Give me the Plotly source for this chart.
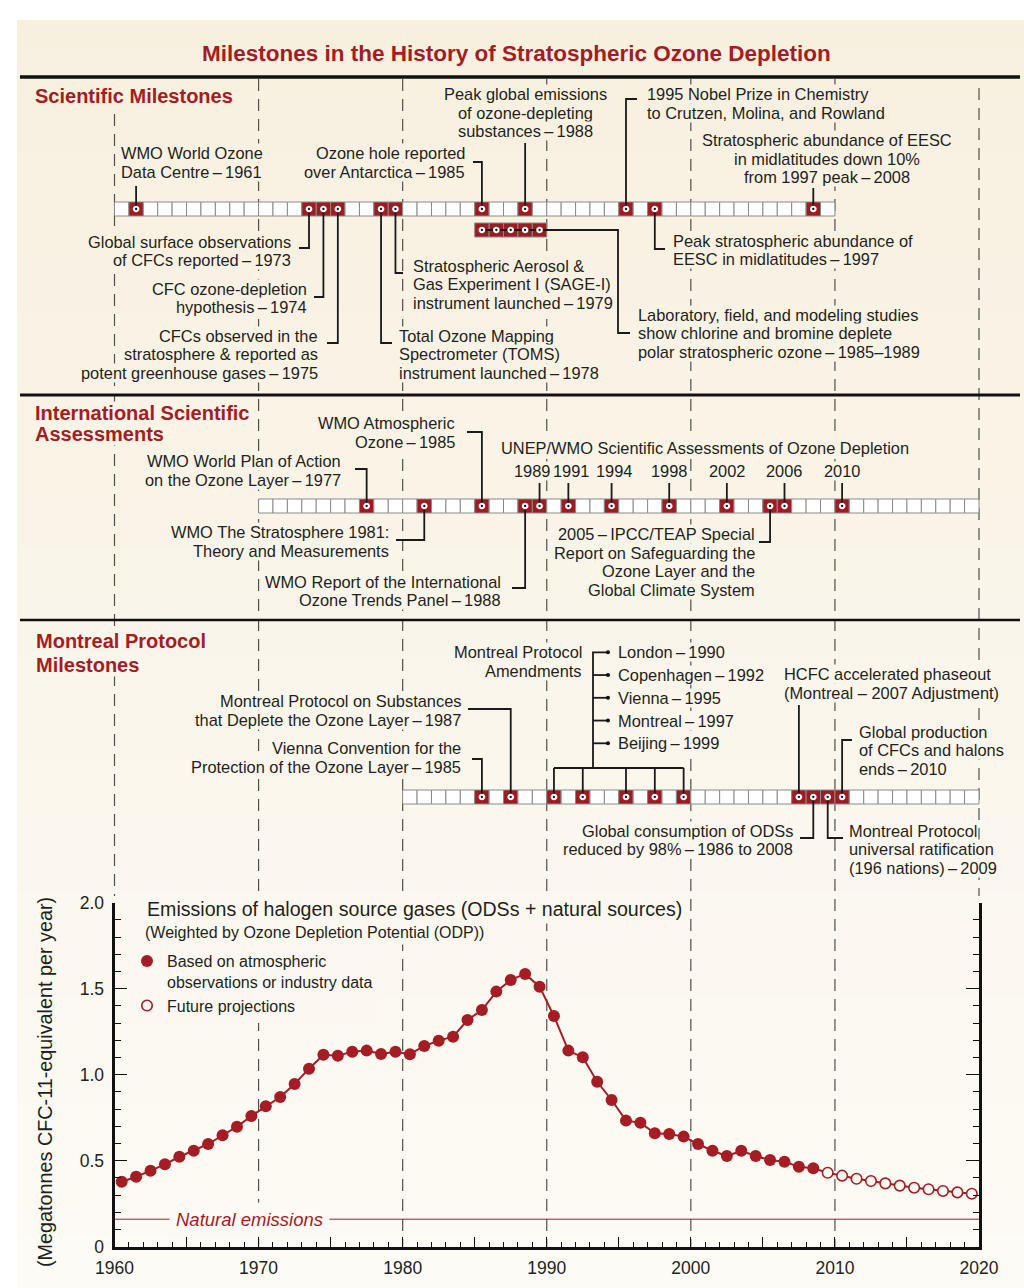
import plotly.graph_objects as go

W, H = 1024, 1288

# ------------------------------------------------------------------ DATA
emis_years_obs = list(range(1960, 2009))
emis_obs = [0.378, 0.407, 0.442, 0.479, 0.523, 0.558, 0.597, 0.648, 0.698, 0.760,
            0.816, 0.870, 0.946, 1.035, 1.116, 1.110, 1.134, 1.140, 1.120, 1.134,
            1.119, 1.167, 1.198, 1.221, 1.318, 1.376, 1.483, 1.551, 1.586, 1.512,
            1.341, 1.140, 1.101, 0.959, 0.853, 0.733, 0.721, 0.659, 0.655, 0.640,
            0.597, 0.558, 0.527, 0.558, 0.527, 0.504, 0.494, 0.465, 0.456]
emis_years_proj = list(range(2009, 2020))
emis_proj = [0.430, 0.413, 0.395, 0.382, 0.368, 0.355, 0.343, 0.334, 0.324, 0.316, 0.308]
natural_emissions = 0.16

timeline_start = [1960, 1970, 1980]
timeline_end = [2010, 2020, 2020]

D = "\u2009\u2013\u2009"
sci_years = [1961, 1985, 1988, 1995, 2008, 1973, 1974, 1975, 1979, 1978, 1997]
sci_texts = [
    ["WMO World Ozone", "Data Centre" + D + "1961"],
    ["Ozone hole reported", "over Antarctica" + D + "1985"],
    ["Peak global emissions", "of ozone-depleting", "substances" + D + "1988"],
    ["1995 Nobel Prize in Chemistry", "to Crutzen, Molina, and Rowland"],
    ["Stratospheric abundance of EESC", "in midlatitudes down 10%", "from 1997 peak" + D + "2008"],
    ["Global surface observations", "of CFCs reported" + D + "1973"],
    ["CFC ozone-depletion", "hypothesis" + D + "1974"],
    ["CFCs observed in the", "stratosphere & reported as", "potent greenhouse gases" + D + "1975"],
    ["Stratospheric Aerosol &", "Gas Experiment I (SAGE-I)", "instrument launched" + D + "1979"],
    ["Total Ozone Mapping", "Spectrometer (TOMS)", "instrument launched" + D + "1978"],
    ["Peak stratospheric abundance of", "EESC in midlatitudes" + D + "1997"],
]
sci_span_years = [1985, 1986, 1987, 1988, 1989]
sci_span_text = ["Laboratory, field, and modeling studies",
                 "show chlorine and bromine deplete",
                 "polar stratospheric ozone" + D + "1985\u20131989"]

assess_years = [1977, 1985, 1981, 1988, 2005]
assess_texts = [
    ["WMO World Plan of Action", "on the Ozone Layer" + D + "1977"],
    ["WMO Atmospheric", "Ozone" + D + "1985"],
    ["WMO The Stratosphere 1981:", "Theory and Measurements"],
    ["WMO Report of the International", "Ozone Trends Panel" + D + "1988"],
    ["2005" + D + "IPCC/TEAP Special", "Report on Safeguarding the",
     "Ozone Layer and the", "Global Climate System"],
]
unep_years = [1989, 1991, 1994, 1998, 2002, 2006, 2010]
unep_title = "UNEP/WMO Scientific Assessments of Ozone Depletion"

mp_years = [1985, 1987, 2007, 2010, 2008, 2009]
mp_texts = [
    ["Vienna Convention for the", "Protection of the Ozone Layer" + D + "1985"],
    ["Montreal Protocol on Substances", "that Deplete the Ozone Layer" + D + "1987"],
    ["HCFC accelerated phaseout", "(Montreal \u2013 2007 Adjustment)"],
    ["Global production", "of CFCs and halons", "ends" + D + "2010"],
    ["Global consumption of ODSs", "reduced by 98%" + D + "1986 to 2008"],
    ["Montreal Protocol", "universal ratification", "(196 nations)" + D + "2009"],
]
amend_years = [1990, 1992, 1995, 1997, 1999]
amend_names = ["London", "Copenhagen", "Vienna", "Montreal", "Beijing"]
amend_title = ["Montreal Protocol", "Amendments"]

section_titles = [["Scientific Milestones"],
                  ["International Scientific", "Assessments"],
                  ["Montreal Protocol", "Milestones"]]
main_title = "Milestones in the History of Stratospheric Ozone Depletion"
chart_title = "Emissions of halogen source gases (ODSs + natural sources)"
chart_subtitle = "(Weighted by Ozone Depletion Potential (ODP))"
y_title = "(Megatonnes CFC-11-equivalent per year)"

# ------------------------------------------------------------------ LAYOUT / STYLE
RED = "#a51c24"
BOXRED = "#a01a22"
TXT = "#231f20"
FONT = "Liberation Sans, Arial, sans-serif"
FS = 16.4
LH = 18.7

PX = (979.0 - 114.5) / 60.0          # pixels per year
X0 = 1960 - 114.5 / PX               # x2 value at left edge


def xv(px):
    return X0 + px / PX


def yp(py):
    return 1 - py / H


C_TOP = (248, 240, 223)
C_BOT = (253, 251, 246)


def bg_at(py):
    t = min(max((py - 20) / (H - 20), 0), 1)
    c = [round(a + (b - a) * t) for a, b in zip(C_TOP, C_BOT)]
    return "rgb(%d,%d,%d)" % tuple(c)


BOX_H = 14
row_top = [202, 499, 790]
span_top = 223

# placements: (connector end y, arm end px or None, text px, xanchor, first line y)
sci_place = [(186, None, 120, "left", 153), (162, 473, 466, "right", 153),
             (143, None, 525, "center", 94), (99, 637, 646, "left", 94),
             (188, None, 827, "center", 140), (248, 299, 292, "right", 241.5),
             (297, 314, 308, "right", 288.5), (343, 327, 319, "right", 335.5),
             (273, 403, 412, "left", 265.5), (343, 392, 398, "left", 335.5),
             (249, 665, 672, "left", 240.5)]
span_place = (618, 333, 630, 637, 314.5)   # corner px, down y, arm px, text px, first y
assess_place = [(469, 355, 342, "right", 461), (432, 467, 456, "right", 423),
                (540, 396, 390, "right", 532), (588, 512, 502, "right", 581.5),
                (542, 759, 756, "right", 534)]
unep_conn_top = 483
unep_label_y = 471
unep_label_shift = [-8, 3, 2, 0, 0, 0, 0]
unep_title_pos = (704.5, 448)
mp_place = [(759, 472, 462, "right", 748), (709, 468, 462, "right", 701),
            (705, None, 783, "left", 674), (740, 852, 858, "left", 731.5),
            (838, 800, 794, "right", 830.5), (838, 843, 848, "left", 830.5)]
amend_bar_y = 768
amend_trunk_px = 593
amend_arrow_px = 607
amend_label_px = 617
amend_first_y = 652.3
amend_step = 22.75
amend_title_pos = (583, 652)
section_pos = [(34, 96, 20), (34, 413, 20.5), (35, 641, 24)]

fig = go.Figure()

shapes = []
# background panel as gradient bands
NB = 48
y_start, y_end = 20, H
for i in range(NB):
    a = y_start + (y_end - y_start) * i / NB
    b = y_start + (y_end - y_start) * (i + 1) / NB + 1
    shapes.append(dict(type="rect", xref="paper", yref="paper", x0=17 / W, x1=1,
                       y0=yp(min(b, H)), y1=yp(a), fillcolor=bg_at((a + b) / 2),
                       line=dict(width=0), layer="below"))
# decade dashed lines
dash_spans = {1960: (114, 896), 1970: (79, 1247), 1980: (79, 1247), 1990: (79, 1247),
              2000: (79, 1247), 2010: (79, 1247), 2020: (88, 896)}
for yr, (a, b) in dash_spans.items():
    shapes.append(dict(type="line", xref="x2", yref="paper", x0=yr, x1=yr,
                       y0=yp(a), y1=yp(b), line=dict(color="#505050", width=1.2, dash="12px,8px"),
                       layer="below"))
# horizontal rules
for py, wdt in [(77, 3.5), (395, 3), (620, 2.5)]:
    shapes.append(dict(type="line", xref="paper", yref="paper", x0=20 / W, x1=1020 / W,
                       y0=yp(py), y1=yp(py), line=dict(color="#111", width=wdt), layer="above"))

# ------------------------------------------------------------------ timeline boxes
milestone_rows = [set(sci_years), set(assess_years) | set(unep_years),
                  set(mp_years) | set(amend_years)]
for r in range(3):
    yrs = list(range(timeline_start[r], timeline_end[r]))
    cols = [BOXRED if y in milestone_rows[r] else "white" for y in yrs]
    fig.add_trace(go.Bar(x=[y + 0.5 for y in yrs], y=[BOX_H] * len(yrs),
                         base=[row_top[r]] * len(yrs), width=1,
                         marker=dict(color=cols, line=dict(color="#8a8a8a", width=1)),
                         xaxis="x2", yaxis="y2", showlegend=False, hoverinfo="skip"))
fig.add_trace(go.Bar(x=[y + 0.5 for y in sci_span_years], y=[BOX_H] * len(sci_span_years),
                     base=[span_top] * len(sci_span_years), width=1,
                     marker=dict(color=BOXRED, line=dict(color="#8a8a8a", width=1)),
                     xaxis="x2", yaxis="y2", showlegend=False, hoverinfo="skip"))

# ------------------------------------------------------------------ connectors
cx, cy = [], []
dots_x, dots_y = [], []


def seg(points):
    for (a, b) in points:
        cx.append(a)
        cy.append(b)
    cx.append(None)
    cy.append(None)


def milestone(year, row_y, place):
    conn_y, arm, *_ = place
    xc = year + 0.5
    pts = [(xc, row_y), (xc, conn_y)]
    if arm is not None:
        pts.append((xv(arm), conn_y))
    seg(pts)
    dots_x.append(xc)
    dots_y.append(row_y)


sci_c = row_top[0] + BOX_H / 2
asm_c = row_top[1] + BOX_H / 2
mp_c = row_top[2] + BOX_H / 2
for y, p in zip(sci_years, sci_place):
    milestone(y, sci_c, p)
for y, p in zip(assess_years, assess_place):
    milestone(y, asm_c, p)
for y, p in zip(mp_years, mp_place):
    milestone(y, mp_c, p)

span_c = span_top + BOX_H / 2
corner, down_y, arm_px, _, _ = span_place
seg([(sci_span_years[0] + 0.5, span_c), (xv(corner), span_c), (xv(corner), down_y), (xv(arm_px), down_y)])
for y in sci_span_years:
    dots_x.append(y + 0.5)
    dots_y.append(span_c)

for y in unep_years:
    seg([(y + 0.5, asm_c), (y + 0.5, unep_conn_top)])
    dots_x.append(y + 0.5)
    dots_y.append(asm_c)

for y in amend_years:
    seg([(y + 0.5, mp_c), (y + 0.5, amend_bar_y)])
    dots_x.append(y + 0.5)
    dots_y.append(mp_c)
seg([(amend_years[0] + 0.5, amend_bar_y), (amend_years[-1] + 0.5, amend_bar_y)])
list_y = [amend_first_y + i * amend_step for i in range(len(amend_names))]
seg([(xv(amend_trunk_px), amend_bar_y), (xv(amend_trunk_px), list_y[0]), (xv(amend_arrow_px), list_y[0])])
for ly in list_y[1:]:
    seg([(xv(amend_trunk_px), ly), (xv(amend_arrow_px), ly)])

fig.add_trace(go.Scatter(x=cx, y=cy, mode="lines", line=dict(color="#1a1a1a", width=1.8),
                         xaxis="x2", yaxis="y2", showlegend=False, hoverinfo="skip"))
fig.add_trace(go.Scatter(x=dots_x, y=dots_y, mode="markers",
                         marker=dict(size=4.5, color="#111", line=dict(color="white", width=2.2)),
                         xaxis="x2", yaxis="y2", showlegend=False, hoverinfo="skip", cliponaxis=False))
fig.add_trace(go.Scatter(x=[xv(amend_arrow_px + 1)] * len(list_y), y=list_y, mode="markers",
                         marker=dict(size=4, color="#111"),
                         xaxis="x2", yaxis="y2", showlegend=False, hoverinfo="skip"))

# ------------------------------------------------------------------ emissions chart
all_x = [y + 0.5 for y in emis_years_obs + emis_years_proj]
fig.add_trace(go.Scatter(x=[1960, 2020], y=[natural_emissions] * 2, mode="lines",
                         line=dict(color=RED, width=1), showlegend=False, hoverinfo="skip"))
fig.add_trace(go.Scatter(x=all_x, y=emis_obs + emis_proj, mode="lines",
                         line=dict(color=RED, width=2), showlegend=False, hoverinfo="skip"))
fig.add_trace(go.Scatter(x=[y + 0.5 for y in emis_years_obs], y=emis_obs, mode="markers",
                         marker=dict(size=12, color=RED),
                         name="Based on atmospheric<br>observations or industry data"))
fig.add_trace(go.Scatter(x=[y + 0.5 for y in emis_years_proj], y=emis_proj, mode="markers",
                         marker=dict(size=10.5, color=bg_at(1200), line=dict(color=RED, width=1.6)),
                         name="Future projections"))

# ------------------------------------------------------------------ annotations
ann = []


def text(px, py, s, anchor="left", size=FS, color=TXT, bold=False, italic=False, bg=True,
         xshift=0, pad=0, angle=0):
    t = s
    if bold:
        t = "<b>" + t + "</b>"
    if italic:
        t = "<i>" + t + "</i>"
    d = dict(x=xv(px), y=py, xref="x2", yref="y2", text=t, showarrow=False,
             xanchor=anchor, yanchor="middle", xshift=xshift, textangle=angle,
             font=dict(family=FONT, size=size, color=color), borderpad=pad)
    if bg:
        d["bgcolor"] = bg_at(py)
    ann.append(d)


def block(lines, place_px, anchor, y0, lh=LH, **kw):
    for i, ln in enumerate(lines):
        text(place_px, y0 + i * lh, ln, anchor, **kw)


text(516.5, 53, main_title, "center", size=22.5, color=RED, bold=True, bg=False)
for lines, (px, py, lh) in zip(section_titles, section_pos):
    block(lines, px, "left", py, lh=lh, size=20, color=RED, bold=True)

for lines, p in zip(sci_texts, sci_place):
    block(lines, p[2], p[3], p[4])
block(sci_span_text, span_place[3], "left", span_place[4])
for lines, p in zip(assess_texts, assess_place):
    block(lines, p[2], p[3], p[4])
text(unep_title_pos[0], unep_title_pos[1], unep_title, "center")
for y, sh in zip(unep_years, unep_label_shift):
    text(PX * (y + 0.5 - X0), unep_label_y, str(y), "center", xshift=sh)
for lines, p in zip(mp_texts, mp_place):
    block(lines, p[2], p[3], p[4])
block(amend_title, amend_title_pos[0], "right", amend_title_pos[1])
for nm, yr, ly in zip(amend_names, amend_years, list_y):
    text(amend_label_px, ly, nm + D + str(yr), "left")

# chart texts
text(143, 909, chart_title, "left", size=19.6, pad=3)
text(141, 932, chart_subtitle, "left", size=16, pad=3)
text(45, 1082, y_title, "center", size=19.8, bg=False, angle=-90)
ann.append(dict(x=1969.4, y=natural_emissions, xref="x", yref="y", text="<i>Natural emissions</i>",
                showarrow=False, xanchor="center", yanchor="middle",
                font=dict(family=FONT, size=18.5, color=RED), bgcolor=bg_at(1219), borderpad=6))

ydom = [(H - 1246.7) / H, (H - 902.7) / H]
fig.update_layout(
    width=W, height=H, autosize=False,
    margin=dict(l=0, r=0, t=0, b=0, pad=0, autoexpand=False),
    paper_bgcolor="white", plot_bgcolor="rgba(0,0,0,0)",
    barmode="overlay",
    shapes=shapes, annotations=ann,
    font=dict(family=FONT, color=TXT),
    xaxis=dict(domain=[114.5 / W, 979 / W], range=[1960, 2020], anchor="y", automargin=False,
               tickvals=list(range(1960, 2021, 5)),
               ticktext=[str(v) if v % 10 == 0 else "" for v in range(1960, 2021, 5)],
               ticks="inside", ticklen=10, tickwidth=1.3, tickcolor="#111",
               minor=dict(dtick=1, ticks="inside", ticklen=5, tickwidth=1.2, tickcolor="#111", showgrid=False),
               showline=True, linewidth=2.8, linecolor="#111", mirror=False,
               showgrid=False, zeroline=False, tickfont=dict(size=17.5, color=TXT),
               ticklabelstandoff=3),
    yaxis=dict(domain=ydom, range=[0, 2], anchor="x", automargin=False,
               tickvals=[0, 0.5, 1, 1.5, 2], ticktext=["0", "0.5", "1.0", "1.5", "2.0"],
               ticks="inside", ticklen=13, tickwidth=1.3, tickcolor="#111",
               minor=dict(dtick=0.1, ticks="inside", ticklen=6.5, tickwidth=1.2, tickcolor="#111", showgrid=False),
               showline=True, linewidth=2.8, linecolor="#111", mirror="ticks",
               showgrid=False, zeroline=False, tickfont=dict(size=17.5, color=TXT),
               ticklabelstandoff=4),
    xaxis2=dict(domain=[0, 1], range=[X0, X0 + W / PX], anchor="y2", visible=False,
                fixedrange=True, automargin=False),
    yaxis2=dict(domain=[0, 1], range=[H, 0], anchor="x2", visible=False, fixedrange=True,
                automargin=False),
    legend=dict(x=127 / W, y=yp(944), xanchor="left", yanchor="top",
                bgcolor=bg_at(985), font=dict(size=16, color=TXT, family=FONT),
                itemwidth=30, valign="top", tracegroupgap=0),
    showlegend=True,
)

fig.write_html("out.html", config={"displayModeBar": False},
               post_script="document.body.style.margin='0';document.body.style.overflow='hidden';")
